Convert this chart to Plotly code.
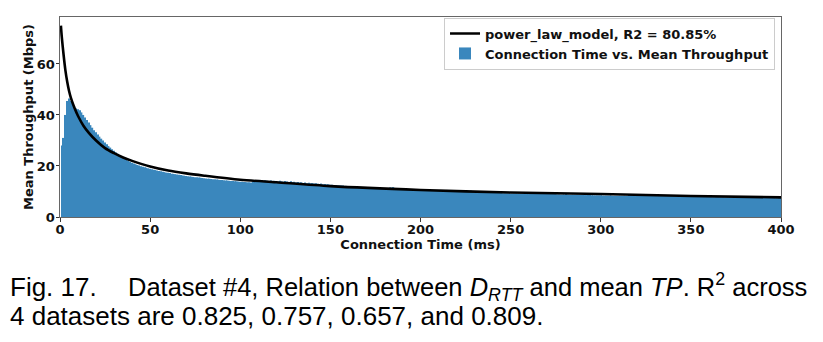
import plotly.graph_objects as go

# Bar data: connection time (ms) and mean throughput (Mbps)
conn_time = list(range(1, 401))
mean_tp = [
    28.0, 31.0, 40.0, 45.5, 46.5, 45.5, 44.0, 43.5, 42.5, 42.2,
    41.8, 41.0, 40.0, 39.0, 38.0, 37.0, 36.0, 35.0, 34.0, 33.2,
    32.3, 31.5, 30.7, 30.0, 29.2, 28.5, 27.8, 27.2, 26.6, 26.0,
    25.3, 24.8, 24.3, 23.8, 23.3, 22.8, 22.4, 22.0, 21.6, 21.3,
    21.0, 20.7, 20.4, 20.2, 19.9, 19.7, 19.5, 19.3, 19.1, 18.9,
    18.7, 18.5, 18.4, 18.2, 18.0, 17.9, 17.7, 17.6, 17.4, 17.3,
    17.2, 17.0, 16.9, 16.8, 16.7, 16.6, 16.5, 16.3, 16.2, 16.1,
    16.0, 15.9, 15.8, 15.7, 15.6, 15.6, 15.5, 15.4, 15.3, 15.2,
    15.1, 15.0, 15.0, 14.9, 14.8, 14.8, 14.7, 14.6, 14.5, 14.5,
    14.4, 14.3, 14.3, 14.2, 14.1, 14.1, 14.0, 14.0, 13.9, 13.8,
    13.8, 13.7, 13.7, 13.6, 13.6, 13.5, 13.9, 14.3, 14.1, 14.4,
    14.2, 14.3, 14.0, 14.4, 14.2, 14.1, 14.3, 14.0, 14.2, 14.1,
    13.9, 14.2, 14.0, 13.8, 14.1, 13.9, 13.7, 14.0, 13.6, 13.8,
    13.5, 13.7, 13.4, 13.6, 13.3, 13.5, 13.2, 13.4, 13.2, 13.3,
    13.1, 13.2, 13.0, 12.9, 13.1, 12.8, 12.9, 12.7, 12.8, 12.6,
    12.6, 12.5, 12.5, 12.4, 12.4, 12.3, 12.3, 12.2, 12.2, 12.1,
    12.1, 12.0, 12.0, 11.9, 11.9, 11.8, 11.8, 11.7, 11.7, 11.6,
    11.6, 11.5, 11.5, 11.5, 11.4, 11.4, 11.3, 11.3, 11.3, 11.2,
    11.2, 11.1, 11.6, 11.5, 11.7, 11.1, 11.0, 11.0, 10.9, 10.9,
    10.9, 10.8, 10.8, 10.8, 10.7, 10.7, 10.7, 10.6, 10.6, 10.5,
    10.5, 10.5, 10.4, 10.4, 10.4, 10.3, 10.3, 10.3, 10.2, 10.2,
    10.2, 10.1, 10.1, 10.1, 10.6, 10.0, 10.0, 10.0, 9.9, 9.9,
    9.9, 9.9, 9.8, 10.3, 10.2, 10.4, 10.1, 10.3, 10.0, 10.2,
    9.7, 9.7, 9.7, 9.6, 9.6, 9.6, 9.6, 9.5, 9.5, 9.5,
    9.5, 9.4, 9.4, 9.4, 9.4, 9.3, 9.3, 9.3, 9.3, 9.2,
    9.2, 9.2, 9.2, 9.1, 9.1, 9.1, 9.1, 9.1, 9.0, 9.0,
    9.5, 9.4, 9.6, 9.3, 9.5, 9.4, 9.6, 9.3, 9.4, 9.5,
    9.3, 9.4, 9.2, 9.3, 9.2, 8.9, 8.9, 8.8, 8.8, 8.8,
    9.3, 8.8, 8.7, 8.7, 8.7, 8.7, 8.7, 8.6, 8.6, 8.6,
    8.6, 8.6, 8.6, 9.1, 8.5, 8.5, 8.5, 8.5, 8.5, 8.5,
    8.4, 8.4, 8.4, 8.4, 8.4, 8.4, 8.3, 8.3, 8.3, 8.3,
    8.3, 8.3, 8.3, 8.2, 8.2, 8.7, 8.8, 8.6, 8.7, 8.8,
    8.6, 8.7, 8.5, 8.6, 8.7, 8.5, 8.6, 8.4, 8.5, 8.4,
    8.5, 8.4, 8.6, 8.4, 8.3, 8.3, 8.3, 8.3, 8.2, 8.2,
    8.2, 8.2, 8.2, 8.1, 8.1, 8.1, 8.1, 8.1, 8.0, 8.0,
    8.0, 8.0, 8.0, 8.0, 7.9, 7.9, 7.9, 7.9, 7.9, 7.9,
    7.9, 7.8, 7.8, 7.8, 7.8, 7.8, 7.8, 7.8, 7.7, 7.7,
    7.7, 7.7, 7.7, 7.7, 7.7, 7.7, 7.6, 7.6, 7.6, 7.6,
    7.6, 7.6, 7.6, 7.6, 7.6, 7.5, 7.5, 7.5, 7.5, 7.5,
    7.5, 7.5, 7.5, 7.5, 7.5, 7.4, 7.4, 7.4, 7.4, 7.4,
]

# Power-law model curve
model_x = [0.5, 1, 2, 3, 4, 5, 6, 8, 10, 13, 16, 20, 25, 30, 35, 40, 50, 60,
           70, 80, 100, 120, 150, 200, 250, 300, 350, 400]
model_y = [75.0, 70.5, 63.5, 57.5, 53.0, 49.5, 46.8, 42.8, 39.6, 35.8, 33.0,
           30.0, 27.0, 25.0, 23.3, 22.0, 19.8, 18.2, 17.1, 16.2, 14.6, 13.6,
           12.1, 10.6, 9.6, 9.0, 8.25, 7.7]

x_ticks = [0, 50, 100, 150, 200, 250, 300, 350, 400]
y_ticks = [0, 20, 40, 60]

FONT = "DejaVu Sans"
CAP_FONT = "Liberation Sans, Arial, sans-serif"

fig = go.Figure()
fig.add_trace(go.Bar(
    x=conn_time, y=mean_tp,
    name="<b>Connection Time vs. Mean Throughput</b>",
    marker=dict(color="#1f77b4", line=dict(width=0)),
    opacity=0.88,
    legendrank=2,
))
fig.add_trace(go.Scatter(
    x=model_x, y=model_y, mode="lines",
    line=dict(color="black", width=2.6, shape="spline", smoothing=0.8),
    name="<b>power_law_model, R2 = 80.85%</b>",
    legendrank=1,
))

axis_common = dict(
    showgrid=False, zeroline=False, showline=True, mirror=True,
    linecolor="#666", linewidth=1, ticks="outside", ticklen=3.5,
    tickcolor="#333", tickwidth=1,
    tickfont=dict(family=FONT, size=13, color="#111", weight="bold"),
)

fig.update_layout(
    width=823, height=342,
    margin=dict(l=60, r=42, t=17, b=125),
    paper_bgcolor="white", plot_bgcolor="white",
    bargap=0.2, showlegend=True,
    legend=dict(
        x=0.9917, y=0.997, xanchor="right", yanchor="top",
        bgcolor="rgba(255,255,255,0.85)", bordercolor="#cccccc", borderwidth=1,
        font=dict(family=FONT, size=13, color="#111"),
        tracegroupgap=0, itemwidth=30,
    ),
    xaxis=dict(
        range=[0, 400], tickvals=x_ticks, ticktext=[str(v) for v in x_ticks],
        ticklabelstandoff=-3,
        title=dict(text="<b>Connection Time (ms)</b>",
                   font=dict(family=FONT, size=13, color="#111"), standoff=0),
        **axis_common,
    ),
    yaxis=dict(
        range=[0, 78.4], tickvals=y_ticks, ticktext=[str(v) for v in y_ticks],
        ticklabelstandoff=-2,
        title=dict(text="<b>Mean Throughput (Mbps)</b>",
                   font=dict(family=FONT, size=13, color="#111"), standoff=0),
        **axis_common,
    ),
)

fig.add_annotation(
    xref="paper", yref="paper", x=-0.0721, y=-0.35, xanchor="left", yanchor="middle",
    text="Fig. 17.", showarrow=False, font=dict(family=CAP_FONT, size=26, color="black"),
)
fig.add_annotation(
    xref="paper", yref="paper", x=0.0915, y=-0.35, xanchor="left", yanchor="middle",
    text="Dataset #4, Relation between <i>D<sub>RTT</sub></i> and mean <i>TP</i>. R<sup>2</sup> across",
    showarrow=False, font=dict(family=CAP_FONT, size=25.5, color="black"),
)
fig.add_annotation(
    xref="paper", yref="paper", x=-0.0721, y=-0.495, xanchor="left", yanchor="middle",
    text="4 datasets are 0.825, 0.757, 0.657, and 0.809.",
    showarrow=False, font=dict(family=CAP_FONT, size=26, color="black"),
)

fig.write_html("out.html")
